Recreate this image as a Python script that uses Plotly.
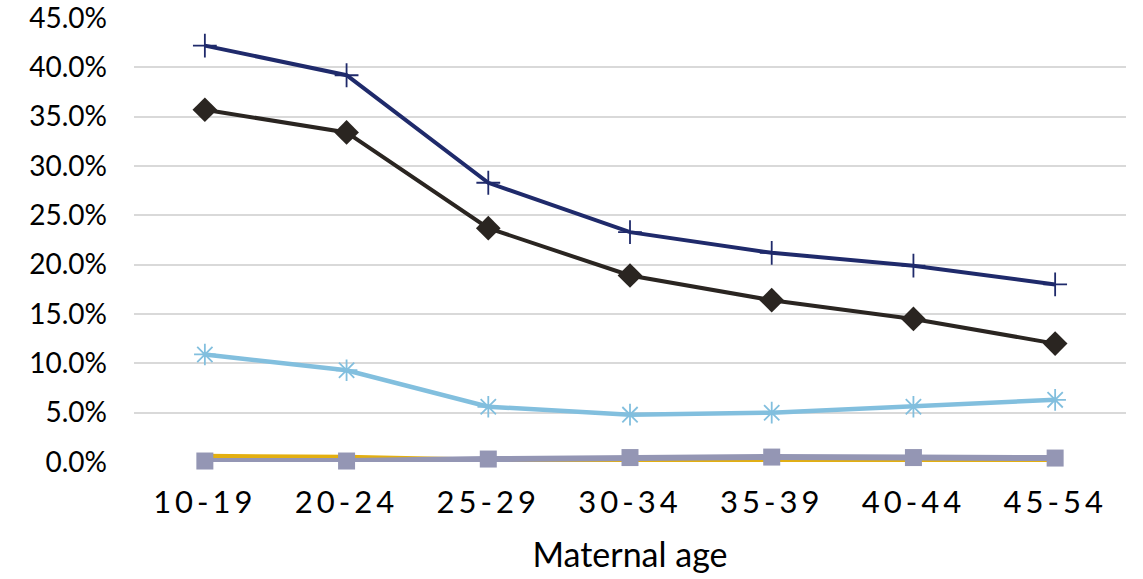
import plotly.graph_objects as go

age_groups = ["10-19", "20-24", "25-29", "30-34", "35-39", "40-44", "45-54"]

# Percentages by maternal age group
navy_vals = [42.2, 39.2, 28.3, 23.3, 21.2, 19.9, 18.0]
black_vals = [35.7, 33.4, 23.7, 18.9, 16.4, 14.5, 12.0]
sky_vals = [10.9, 9.3, 5.6, 4.8, 5.0, 5.6, 6.3]
teal_vals = [0.0, 0.0, 0.0, 0.0, 0.0, 0.0, 0.0]
blue_vals = [0.05, 0.05, 0.05, 0.05, 0.05, 0.05, 0.05]
gold_vals = [0.6, 0.5, 0.2, 0.2, 0.2, 0.2, 0.2]
grey_vals = [0.1, 0.1, 0.3, 0.45, 0.5, 0.45, 0.4]

y_ticks = [0, 5, 10, 15, 20, 25, 30, 35, 40, 45]
y_tick_text = [f"{v:.1f}%" for v in y_ticks]

FONT = "Lato"

fig = go.Figure()

fig.add_trace(go.Scatter(x=age_groups, y=teal_vals, mode="lines", cliponaxis=False,
                         line=dict(color="#3AA6A0", width=2.5), name="Teal"))
fig.add_trace(go.Scatter(x=age_groups, y=blue_vals, mode="lines", cliponaxis=False,
                         line=dict(color="#1F87C8", width=2.5), name="Blue"))
fig.add_trace(go.Scatter(x=age_groups, y=gold_vals, mode="lines", cliponaxis=False,
                         line=dict(color="#E3AF10", width=4.5), name="Gold"))
fig.add_trace(go.Scatter(x=age_groups, y=grey_vals, mode="lines+markers", cliponaxis=False,
                         line=dict(color="#9496B4", width=6),
                         marker=dict(symbol="square", size=17, color="#9496B4"),
                         name="Grey"))
fig.add_trace(go.Scatter(x=age_groups, y=sky_vals, mode="lines+markers", cliponaxis=False,
                         line=dict(color="#82BFDE", width=4.5),
                         marker=dict(symbol="asterisk-open", size=18,
                                     line=dict(color="#82BFDE", width=1.8)),
                         name="Sky"))
fig.add_trace(go.Scatter(x=age_groups, y=black_vals, mode="lines+markers", cliponaxis=False,
                         line=dict(color="#2A2521", width=4),
                         marker=dict(symbol="diamond", size=19, color="#2A2521"),
                         name="Black"))
fig.add_trace(go.Scatter(x=age_groups, y=navy_vals, mode="lines+markers", cliponaxis=False,
                         line=dict(color="#1F2A6B", width=4),
                         marker=dict(symbol="cross-thin-open", size=17,
                                     line=dict(color="#1F2A6B", width=1.8)),
                         name="Navy"))

fig.update_layout(
    width=1143, height=579,
    margin=dict(l=134, r=17, t=18, b=117),
    paper_bgcolor="white", plot_bgcolor="white",
    showlegend=False,
    font=dict(family=FONT, color="#000000"),
)

fig.update_xaxes(
    type="category", range=[-0.5, 6.5], automargin=False,
    showgrid=False, showline=False, zeroline=False,
    tickfont=dict(size=31, family=FONT), ticks="",
    ticklabelstandoff=19,
    title=dict(text="Maternal age", font=dict(size=34, family=FONT), standoff=24),
)
fig.update_yaxes(
    range=[0, 45], tickvals=y_ticks, ticktext=y_tick_text, automargin=False,
    showgrid=True, gridcolor="#D9D9D9", gridwidth=2,
    zeroline=False, showline=False, ticks="",
    tickfont=dict(size=28, family=FONT),
    ticklabelstandoff=26, ticklabeloverflow="allow",
)

# widen the letter spacing of the age-group labels
spacing_js = """
document.querySelectorAll('.xtick text').forEach(function (t) {
  t.style.letterSpacing = '4px';
});
"""

fig.write_html("out.html", post_script=spacing_js)
